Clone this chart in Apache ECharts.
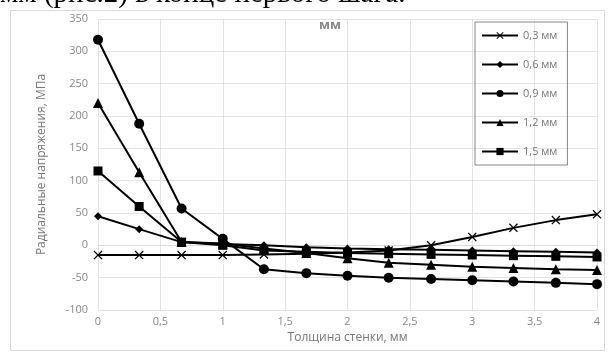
<!DOCTYPE html>
<html>
<head>
<meta charset="utf-8">
<script src="https://cdn.jsdelivr.net/npm/echarts@6/dist/echarts.min.js"></script>
<style>
  html, body {margin: 0; padding: 0; background: #fff;}
  #main {width: 608px; height: 355px;}
</style>
</head>
<body>
<div id="main"></div>
<script>
// толщина стенки, мм
const xVals = [0, 0.33, 0.67, 1, 1.33, 1.67, 2, 2.33, 2.67, 3, 3.33, 3.67, 4];

const names = ['0,3 мм', '0,6 мм', '0,9 мм', '1,2 мм', '1,5 мм'];
const s03 = [-15, -15, -15, -15, -14, -13, -11, -8, 0, 13, 27, 39, 48];
const s06 = [45, 25, 5, 2, 0, -3, -5, -6, -7, -8, -9, -10, -11];
const s09 = [318, 188, 57, 10, -37, -43, -47, -50, -52, -54, -56, -58, -60];
const s12 = [220, 113, 5, 3, -5, -12, -20, -27, -30, -33, -35, -37, -38];
const s15 = [115, 60, 5, 0, -8, -10, -12, -13, -14, -15, -16, -17, -18];

const crossPath = 'path://M0,1L1,0L5,4L9,0L10,1L6,5L10,9L9,10L5,6L1,10L0,9L4,5Z';

function pairs(arr) {
  return arr.map((v, i) => [xVals[i], v]);
}

function mkSeries(name, data, symbol, size) {
  return {
    type: 'line',
    name: name,
    data: pairs(data),
    symbol: symbol,
    symbolSize: size,
    lineStyle: {color: '#000', width: 2},
    itemStyle: {color: '#000'},
    emphasis: {disabled: true},
  };
}

const chart = echarts.init(document.getElementById('main'));
const option = {
  backgroundColor: '#fff',
  animation: false,
  textStyle: {fontFamily: 'Open Sans'},
  title: {
    text: 'мм',
    left: 325,
    top: 14,
    textAlign: 'center',
    textStyle: {fontSize: 13, fontWeight: 'bold', color: '#888'}
  },
  graphic: [
    {
      type: 'rect',
      shape: {x: 10.5, y: 10.5, width: 594, height: 340},
      style: {fill: 'none', stroke: '#d9d9d9', lineWidth: 1},
      z: -1
    },
    {
      type: 'text',
      x: 0,
      y: -20,
      style: {
        text: 'мм (рис.2) в конце первого шага.',
        font: '29px "Liberation Serif"', fill: '#000', verticalAlign: 'top'
      }
    }
  ],
  legend: {
    orient: 'vertical',
    left: 475,
    top: 22,
    padding: [8, 10, 8, 6],
    itemGap: 18,
    itemWidth: 36,
    itemHeight: 9,
    borderColor: '#888',
    borderWidth: 1,
    textStyle: {fontSize: 11, color: '#777'},
    data: names
  },
  grid: {left: 98, right: 11, top: 19, bottom: 45, outerBoundsMode: 'none', containLabel: false},
  xAxis: {
    type: 'value',
    min: 0,
    max: 4,
    interval: 0.5,
    axisLine: {onZero: true, lineStyle: {color: '#d9d9d9'}},
    axisTick: {show: false},
    axisLabel: {
      color: '#888', fontSize: 11, margin: 6,
      formatter: v => String(v).replace('.', ',')
    },
    splitLine: {lineStyle: {color: '#e3e3e3'}},
    name: 'Толщина стенки, мм',
    nameLocation: 'middle',
    nameGap: 3,
    nameTextStyle: {fontSize: 12, color: '#777'}
  },
  yAxis: {
    type: 'value',
    min: -100,
    max: 350,
    interval: 50,
    axisLine: {show: false},
    axisTick: {show: false},
    axisLabel: {color: '#888', fontSize: 11, margin: 10},
    splitLine: {lineStyle: {color: '#e3e3e3'}},
    name: 'Радиальные напряжения, МПа',
    nameLocation: 'middle',
    nameGap: 50,
    nameTextStyle: {fontSize: 12, color: '#777'}
  },
  series: [
    mkSeries(names[0], s03, crossPath, 9),
    mkSeries(names[1], s06, 'diamond', 8),
    mkSeries(names[2], s09, 'circle', 10),
    mkSeries(names[3], s12, 'triangle', 10),
    mkSeries(names[4], s15, 'rect', 9)
  ]
};
chart.setOption(option);
</script>
</body>
</html>
